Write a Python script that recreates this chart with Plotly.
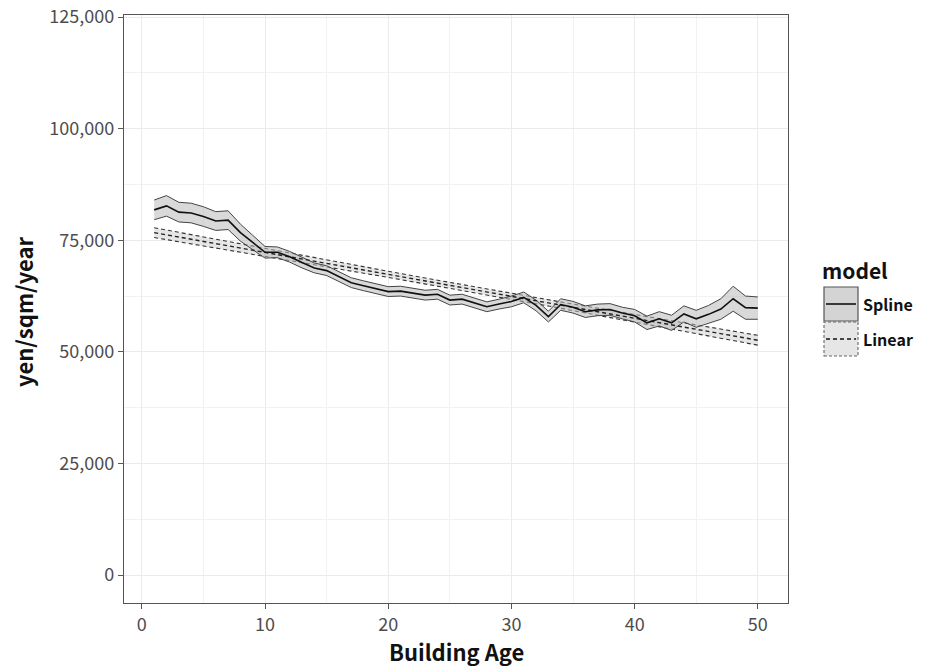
import plotly.graph_objects as go

age = list(range(1, 51))

spline_fit = [81800, 82700, 81300, 81100, 80300, 79300, 79500, 76700, 74500, 72300,
              72300, 71300, 70000, 68800, 68200, 66800, 65500, 64800, 64100, 63500,
              63600, 63200, 62700, 62900, 61600, 61800, 60900, 60100, 60700, 61300,
              62200, 60400, 57900, 60600, 60000, 59000, 59400, 59500, 58700, 58100,
              56500, 57400, 56500, 58500, 57400, 58400, 59600, 61900, 59900, 59800]
spline_lo = [79600, 80400, 79100, 78900, 78100, 77200, 77400, 74800, 72900, 71000,
             71100, 70100, 68800, 67700, 67100, 65700, 64400, 63700, 63000, 62400,
             62500, 62100, 61600, 61800, 60500, 60700, 59800, 59000, 59600, 60100,
             61000, 59200, 56700, 59300, 58700, 57700, 58100, 58200, 57400, 56700,
             55000, 55800, 54800, 56700, 55500, 56400, 57300, 59100, 57300, 57300]
spline_hi = [84000, 85000, 83500, 83300, 82500, 81400, 81600, 78600, 76100, 73600,
             73500, 72500, 71200, 69900, 69300, 67900, 66600, 65900, 65200, 64600,
             64700, 64300, 63800, 64000, 62700, 62900, 62000, 61200, 61800, 62500,
             63400, 61600, 59100, 61900, 61300, 60300, 60700, 60800, 60000, 59500,
             58000, 59000, 58200, 60300, 59300, 60400, 61900, 64700, 62500, 62300]

linear_fit = [76700, 76210, 75720, 75230, 74730, 74240, 73750, 73260, 72770, 72270,
              71780, 71290, 70800, 70310, 69820, 69320, 68830, 68340, 67850, 67360,
              66860, 66370, 65880, 65390, 64900, 64410, 63910, 63420, 62930, 62440,
              61950, 61450, 60960, 60470, 59980, 59490, 59000, 58500, 58010, 57520,
              57030, 56540, 56040, 55550, 55060, 54570, 54080, 53590, 53090, 52600]
linear_lo = [75600, 75140, 74680, 74220, 73740, 73280, 72820, 72350, 71890, 71410,
             70940, 70480, 70010, 69540, 69070, 68580, 68110, 67640, 67160, 66680,
             66190, 65710, 65220, 64740, 64250, 63760, 63260, 62760, 62270, 61770,
             61270, 60760, 60260, 59750, 59240, 58740, 58230, 57710, 57200, 56680,
             56170, 55660, 55130, 54620, 54100, 53580, 53070, 52550, 52020, 51500]
linear_hi = [77800, 77280, 76760, 76240, 75720, 75200, 74680, 74170, 73650, 73130,
             72620, 72100, 71590, 71080, 70570, 70060, 69550, 69040, 68540, 68040,
             67530, 67030, 66540, 66040, 65550, 65060, 64560, 64080, 63590, 63110,
             62630, 62140, 61660, 61190, 60720, 60240, 59770, 59290, 58820, 58360,
             57890, 57420, 56950, 56480, 56020, 55560, 55090, 54630, 54160, 53700]

x_ticks = [0, 10, 20, 30, 40, 50]
y_ticks = [0, 25000, 50000, 75000, 100000, 125000]
legend_labels = ["Spline", "Linear"]
x_title = "Building Age"
y_title = "yen/sqm/year"
legend_title = "model"

FONT = "Noto Sans CJK JP"
fig = go.Figure()

# Linear ribbon
fig.add_trace(go.Scatter(x=age, y=linear_lo, mode="lines",
                         line=dict(color="#333333", width=1.1, dash="4px,3px"),
                         showlegend=False, hoverinfo="skip"))
fig.add_trace(go.Scatter(x=age, y=linear_hi, mode="lines", fill="tonexty",
                         fillcolor="rgba(200,200,200,0.45)",
                         line=dict(color="#333333", width=1.1, dash="4px,3px"),
                         showlegend=False, hoverinfo="skip"))
# Spline ribbon
fig.add_trace(go.Scatter(x=age, y=spline_lo, mode="lines",
                         line=dict(color="#444444", width=1),
                         showlegend=False, hoverinfo="skip"))
fig.add_trace(go.Scatter(x=age, y=spline_hi, mode="lines", fill="tonexty",
                         fillcolor="rgba(185,185,185,0.55)",
                         line=dict(color="#444444", width=1),
                         showlegend=False, hoverinfo="skip"))
# Fit lines
fig.add_trace(go.Scatter(x=age, y=linear_fit, mode="lines",
                         line=dict(color="#222222", width=1.4, dash="4px,3px"),
                         showlegend=False))
fig.add_trace(go.Scatter(x=age, y=spline_fit, mode="lines",
                         line=dict(color="#111111", width=1.6),
                         showlegend=False))

axis_common = dict(
    showgrid=True, gridcolor="#EBEBEB", gridwidth=1,
    showline=True, linecolor="#555555", linewidth=1.2, mirror=True,
    ticks="outside", ticklen=5, tickcolor="#555555", tickwidth=1,
    tickfont=dict(family=FONT, size=18, color="#4D4D4D"),
    zeroline=False, automargin=False, ticklabeloverflow="allow",
)

fig.update_xaxes(**axis_common, range=[-1.45, 52.45], tickvals=x_ticks,
                 minor=dict(dtick=5, tick0=0, showgrid=True, gridcolor="#F2F2F2", gridwidth=1, ticks=""))
fig.update_yaxes(**axis_common, range=[-6250, 125450], tickvals=y_ticks, tickformat=",",
                 minor=dict(dtick=12500, tick0=0, showgrid=True, gridcolor="#F2F2F2", gridwidth=1, ticks=""))

# Manual ggplot-style legend and axis titles (pixel -> paper helpers)
T = 15
B = 65
H = 668 - T - B
W = 664.0
YB = 668 - B
def px(xp):
    return (xp - 124) / W
def py(yp):
    return (YB - yp) / H

shapes = [
    dict(type="rect", xref="paper", yref="paper", x0=px(824), x1=px(858), y0=py(321), y1=py(287),
         fillcolor="#D4D4D4", line=dict(color="#555555", width=1.2)),
    dict(type="line", xref="paper", yref="paper", x0=px(826), x1=px(856), y0=py(304), y1=py(304),
         line=dict(color="#111111", width=1.6)),
    dict(type="rect", xref="paper", yref="paper", x0=px(824), x1=px(858), y0=py(356), y1=py(322),
         fillcolor="#E6E6E6", line=dict(color="#666666", width=1.1, dash="3px,2px")),
    dict(type="line", xref="paper", yref="paper", x0=px(826), x1=px(856), y0=py(339), y1=py(339),
         line=dict(color="#111111", width=1.6, dash="4px,3px")),
]
annotations = [
    dict(text="<b>" + legend_title + "</b>", xref="paper", yref="paper", x=px(820), y=py(270), xanchor="left",
         yanchor="middle", showarrow=False, font=dict(family=FONT, size=21, color="#111111")),
    dict(text="<b>" + legend_labels[0] + "</b>", xref="paper", yref="paper", x=px(861), y=py(304),
         xanchor="left", yanchor="middle", showarrow=False, font=dict(family=FONT, size=16, color="#111111")),
    dict(text="<b>" + legend_labels[1] + "</b>", xref="paper", yref="paper", x=px(861), y=py(339),
         xanchor="left", yanchor="middle", showarrow=False, font=dict(family=FONT, size=16, color="#111111")),
    dict(text="<b>" + x_title + "</b>", xref="paper", yref="paper", x=px(456), y=py(651),
         xanchor="center", yanchor="middle", showarrow=False, borderpad=0,
         font=dict(family=FONT, size=22, color="#111111")),
    dict(text="<b>" + y_title + "</b>", xref="paper", yref="paper", x=px(23), y=py(312), textangle=-90,
         xanchor="center", yanchor="middle", showarrow=False, borderpad=0,
         font=dict(family=FONT, size=22, color="#111111")),
]

fig.update_layout(
    width=925, height=668,
    margin=dict(l=124, r=137, t=T, b=B),
    paper_bgcolor="white", plot_bgcolor="white",
    showlegend=False,
    shapes=shapes, annotations=annotations,
    font=dict(family=FONT),
)

fig.write_html("out.html")
